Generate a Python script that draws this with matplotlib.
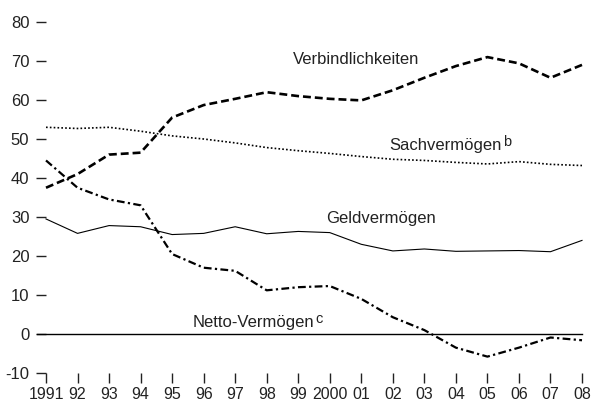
import matplotlib
matplotlib.use('Agg')
import matplotlib.pyplot as plt

plt.rcParams['font.family'] = ['Liberation Sans Narrow', 'Liberation Sans', 'DejaVu Sans']
plt.rcParams['axes.unicode_minus'] = False

# Data
years = list(range(1991, 2009))
year_labels = ['1991', '92', '93', '94', '95', '96', '97', '98', '99', '2000',
               '01', '02', '03', '04', '05', '06', '07', '08']
verbindlichkeiten = [37.5, 41, 46, 46.5, 55.5, 58.7, 60.3, 62, 61, 60.3,
                     59.9, 62.5, 65.7, 68.7, 71, 69.4, 65.7, 69]
sachvermoegen = [53, 52.7, 53, 52, 50.8, 50, 49, 47.8, 47, 46.3,
                 45.5, 44.8, 44.5, 44, 43.6, 44.2, 43.5, 43.2]
geldvermoegen = [29.5, 25.8, 27.8, 27.5, 25.5, 25.8, 27.5, 25.7, 26.3, 26,
                 23, 21.3, 21.8, 21.2, 21.3, 21.4, 21.1, 24]
nettovermoegen = [44.5, 37.5, 34.5, 33, 20.5, 17, 16.2, 11.2, 12, 12.3,
                  9, 4.3, 1, -3.5, -5.8, -3.5, -0.9, -1.6]
yticks = [-10, 0, 10, 20, 30, 40, 50, 60, 70, 80]

fig = plt.figure(figsize=(5.91, 4.01), dpi=100)
ax = fig.add_axes([46 / 591, 28 / 401, 536 / 591, 351 / 401])

ax.plot(years, verbindlichkeiten, color='black', lw=1.9, dashes=(3, 1.5), clip_on=False)
ax.plot(years, sachvermoegen, color='black', lw=1.2, dashes=(1, 1.3), clip_on=False)
ax.plot(years, geldvermoegen, color='black', lw=0.8, clip_on=False)
ax.plot(years, nettovermoegen, color='black', lw=1.6, dashes=(3.5, 1.5, 1, 1.5), clip_on=False)
ax.axhline(0, xmin=-0.017, xmax=1, color='black', lw=1.0, clip_on=False)

ax.set_xlim(1991, 2008)
ax.set_ylim(-10, 80)
for s in ax.spines.values():
    s.set_visible(False)

ax.set_xticks(years)
ax.set_xticklabels(year_labels)
ax.set_yticks(yticks)
ax.tick_params(axis='x', direction='out', length=7, width=1, pad=3,
               labelsize=11.5, colors='#222222')
ax.tick_params(axis='y', direction='out', length=7, width=1, pad=5,
               labelsize=12, colors='#222222')

lab = dict(fontsize=12, color='#222222', va='center', ha='left')
ax.text(1998.83, 70.3, 'Verbindlichkeiten', **lab)
ax.text(1999.9, 29.7, 'Geldvermögen', **lab)
t1 = ax.text(2001.9, 48.3, 'Sachvermögen', **lab)
ax.annotate('b', xy=(1.01, 1.2), xycoords=t1, va='top', ha='left',
            fontsize=10.5, color='#222222')
t2 = ax.text(1995.66, 3.0, 'Netto-Vermögen', **lab)
ax.annotate('c', xy=(1.01, 1.2), xycoords=t2, va='top', ha='left',
            fontsize=10.5, color='#222222')

fig.savefig('out.png', dpi=100)
